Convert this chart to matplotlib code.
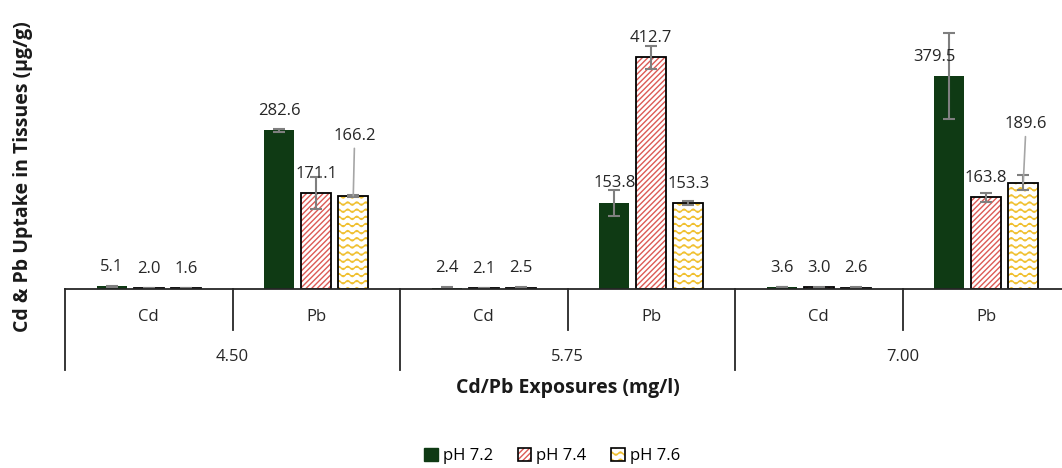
import warnings
import numpy as np
import matplotlib
matplotlib.use("Agg")
import matplotlib.pyplot as plt
from matplotlib import hatch as mhatch
from matplotlib.colors import to_rgba
from matplotlib.patches import Patch

warnings.filterwarnings("ignore")

# data
exposures = ["4.50", "5.75", "7.00"]
metals = ["Cd", "Pb"]
series = ["pH 7.2", "pH 7.4", "pH 7.6"]
ph72 = [5.1, 282.6, 2.4, 153.8, 3.6, 379.5]
ph74 = [2.0, 171.1, 2.1, 412.7, 3.0, 163.8]
ph76 = [1.6, 166.2, 2.5, 153.3, 2.6, 189.6]
err72 = [1.0, 3.0, 0.4, 23.0, 0.6, 77.0]
err74 = [0.4, 28.0, 0.4, 21.0, 0.4, 8.0]
err76 = [0.4, 2.0, 0.4, 3.0, 0.4, 13.0]

green = "#0f3a14"
red = "#dc5a55"
yellow = "#f0c030"
grey = "#7f7f7f"


# wavy hatch (not built into matplotlib)
class WaveHatch(mhatch.HatchPatternBase):
    def __init__(self, hatch, density):
        self.num_lines = hatch.count("~") * 7
        self.n_pts = 11 * 8 + 1
        self.num_vertices = self.num_lines * self.n_pts

    def set_vertices_and_codes(self, vertices, codes):
        if self.num_lines == 0:
            return
        ys = (np.arange(self.num_lines) + 0.5) / self.num_lines
        xs = np.linspace(0, 1, self.n_pts)
        wave = 0.016 * np.sin(2 * np.pi * 11 * xs)
        for i, y in enumerate(ys):
            sl = slice(i * self.n_pts, (i + 1) * self.n_pts)
            vertices[sl, 0] = xs
            vertices[sl, 1] = y + wave
            codes[sl] = mhatch.Path.LINETO
            codes[i * self.n_pts] = mhatch.Path.MOVETO


mhatch._hatch_types.append(WaveHatch)

plt.rcParams["font.family"] = ["Open Sans", "DejaVu Sans"]
plt.rcParams["hatch.linewidth"] = 1.0

W, H = 1062, 468
fig = plt.figure(figsize=(W / 100, H / 100), dpi=100)

px_per_unit = 0.561
ytop = 540
ax_left, ax_right, ax_bottom = 65, 1070, 289
axh = ytop * px_per_unit
ax = fig.add_axes([ax_left / W, (H - ax_bottom) / H,
                   (ax_right - ax_left) / W, axh / H])

x = np.arange(len(exposures) * len(metals))
off = 0.221
bw = 0.179

ek = dict(ecolor=grey, elinewidth=1.5, capsize=4, capthick=1.5)
b1 = ax.bar(x - off, ph72, bw, color=green, yerr=err72, error_kw=ek,
            label=series[0], zorder=2)
b2 = ax.bar(x, ph74, bw, facecolor="white", edgecolor="black", lw=1.3,
            hatch="//////", yerr=err74, error_kw=ek, label=series[1], zorder=2)
b3 = ax.bar(x + off, ph76, bw, facecolor="white", edgecolor="black", lw=1.3,
            hatch="~~", yerr=err76, error_kw=ek, label=series[2], zorder=2)
for p in b2:
    p._hatch_color = to_rgba(red)
for p in b3:
    p._hatch_color = to_rgba(yellow)

# data labels
label_shift = {(0, 5): (-11, 11), (2, 1): (1, 40), (2, 5): (2, 39)}
for si, (vals, errs) in enumerate([(ph72, err72), (ph74, err74), (ph76, err76)]):
    for i, v in enumerate(vals):
        xx = x[i] + (si - 1) * off
        dx, dy = label_shift.get((si, i), (0, 11))
        if dy > 20:
            ax.annotate(f"{v:.1f}", xy=(xx, v), xytext=(dx, dy),
                        textcoords="offset points", ha="center", va="baseline",
                        fontsize=12, color="#262626",
                        arrowprops=dict(arrowstyle="-", color="#a6a6a6", lw=1.2,
                                        shrinkA=1, shrinkB=0))
        else:
            ax.annotate(f"{v:.1f}", xy=(xx, v), xytext=(dx, dy),
                        textcoords="offset points", ha="center", va="baseline",
                        fontsize=12, color="#262626")

ax.set_xlim(-0.5, len(x) - 0.5)
ax.set_ylim(0, ytop)
ax.set_xticks([])
ax.set_yticks([])
for s in ["top", "right", "left"]:
    ax.spines[s].set_visible(False)
ax.spines["bottom"].set_linewidth(1.3)
ax.spines["bottom"].set_color("#262626")

# multi-level category axis
tr = ax.get_xaxis_transform()
for k in range(len(x) + 1):
    depth = 81 if k % 2 == 0 else 41
    ax.plot([k - 0.5, k - 0.5], [0, -depth / axh], transform=tr, color="#262626",
            lw=1.3, clip_on=False)
for i in range(len(x)):
    ax.text(x[i], -28 / axh, metals[i % 2], transform=tr, ha="center", va="center",
            fontsize=12, color="#262626")
for g, e in enumerate(exposures):
    ax.text(2 * g + 0.5, -68 / axh, e, transform=tr, ha="center", va="center",
            fontsize=12, color="#262626")
ax.text(0.5, -99 / axh, "Cd/Pb Exposures (mg/l)", transform=ax.transAxes,
        ha="center", va="center", fontsize=14, fontweight="bold", color="#1a1a1a")
fig.text(23 / W, 1 - 177 / H, "Cd & Pb Uptake in Tissues (µg/g)", rotation=90,
         ha="center", va="center", fontsize=14, fontweight="bold", color="#1a1a1a")

handles = [Patch(facecolor=green, edgecolor=green)]
for h, c in [(b2[0], red), (b3[0], yellow)]:
    hp = Patch(facecolor="white", edgecolor="black", lw=1.2, hatch=h.get_hatch())
    hp._hatch_color = to_rgba(c)
    handles.append(hp)
fig.legend(handles, series, loc="center", bbox_to_anchor=(552 / W, 1 - 456 / H),
           ncol=3, frameon=False, fontsize=12, handlelength=0.8, handleheight=0.8,
           handletextpad=0.3, columnspacing=1.5)

fig.savefig("out.png", dpi=100)
